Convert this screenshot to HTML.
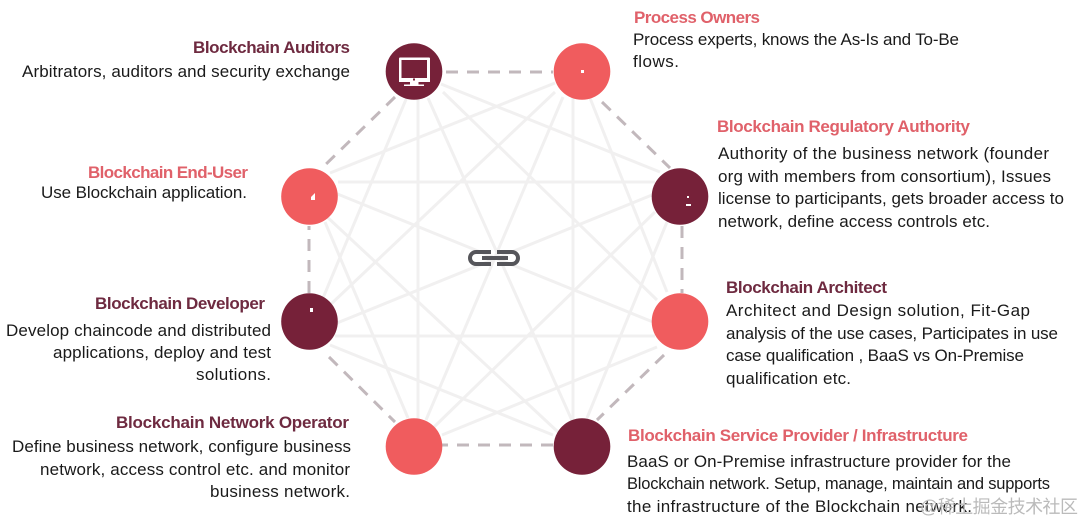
<!DOCTYPE html>
<html><head><meta charset="utf-8"><style>
html,body{margin:0;padding:0;background:#fff}
svg{display:block}
text{font-family:"Liberation Sans","Noto Sans CJK SC",sans-serif;font-size:17px;fill:#1a1a1a}
.r{font-weight:bold;fill:#6e2a40}
.c{font-weight:bold;fill:#e0616a}
</style></head><body>
<svg width="1084" height="523" viewBox="0 0 1084 523" xmlns="http://www.w3.org/2000/svg">
<rect width="1084" height="523" fill="#fff"/>
<g stroke="#f1f0f0" stroke-width="3" fill="none">
<path d="M441 84L660 172M443 92L657 300M428 98L574 425M418 95V420M407 97L318 310"/>
<path d="M555 83L330 173M555 92L330 305M563 97L426 420M573 95V420M590 98L667 292"/>
<path d="M338 182H655M652 195L337 323M655 212L433 428M667 222L587 418"/>
<path d="M335 193L653 322M335 336H655M657 347L442 435"/>
<path d="M325 215L558 432M330 345L553 435M325 222L408 418"/>
</g>
<g stroke="#c2b8bc" stroke-width="3" fill="none" stroke-dasharray="12 9">
<path d="M446 72L553 72"/>
<path d="M602 102L670 168"/>
<path d="M682 226L682 293"/>
<path d="M664 355L597 420"/>
<path d="M553 445L442 445"/>
<path d="M329 357L395 422"/>
<path d="M309 293L309 226"/>
<path d="M395 97L322 168"/>
</g>
<circle cx="414" cy="71.5" r="28.3" fill="#762139"/>
<circle cx="582" cy="71.5" r="28.3" fill="#f05c5e"/>
<circle cx="680" cy="196.5" r="28.3" fill="#762139"/>
<circle cx="680" cy="321.5" r="28.3" fill="#f05c5e"/>
<circle cx="582" cy="446.5" r="28.3" fill="#762139"/>
<circle cx="414" cy="446.5" r="28.3" fill="#f05c5e"/>
<circle cx="309.5" cy="321.5" r="28.3" fill="#762139"/>
<circle cx="309.5" cy="196.5" r="28.3" fill="#f05c5e"/>
<g fill="#fff">
<path fill-rule="evenodd" d="M400 57.5H429Q430 57.5 430 58.5V82H418.5V84.5H424V86H404V84.5H410V82H399V58.5Q399 57.5 400 57.5ZM401.5 60V78H427V60Z"/>
<rect x="581" y="70" width="3" height="3"/>
<path d="M311 197L315 193V200H311Z"/>
<rect x="310" y="308" width="3" height="4"/>
<rect x="687" y="196" width="2" height="2"/>
<rect x="686" y="204" width="5" height="2"/>
</g>
<rect x="413" y="78.5" width="2" height="2" fill="#762139"/>
<g fill="none" stroke="#55555a" stroke-width="4">
<path d="M491 252H476a6 6 0 0 0 0 12H491"/>
<path d="M497 252H512a6 6 0 0 1 0 12H497"/>
</g>
<rect x="482" y="256" width="26" height="4" fill="#55555a"/>

<text class="r" x="350" y="53" text-anchor="end" textLength="157" lengthAdjust="spacing">Blockchain Auditors</text>
<text x="350" y="77" text-anchor="end" textLength="328" lengthAdjust="spacing">Arbitrators, auditors and security exchange</text>

<text class="c" x="248" y="178" text-anchor="end" textLength="160" lengthAdjust="spacing">Blockchain End-User</text>
<text x="247" y="198" text-anchor="end" textLength="206" lengthAdjust="spacing">Use Blockchain application.</text>

<text class="r" x="265" y="309" text-anchor="end" textLength="170" lengthAdjust="spacing">Blockchain Developer</text>
<text x="271" y="336" text-anchor="end" textLength="265" lengthAdjust="spacing">Develop chaincode and distributed</text>
<text x="271" y="358" text-anchor="end" textLength="218" lengthAdjust="spacing">applications, deploy and test</text>
<text x="271" y="380" text-anchor="end" textLength="75" lengthAdjust="spacing">solutions.</text>

<text class="r" x="349" y="428" text-anchor="end" textLength="233" lengthAdjust="spacing">Blockchain Network Operator</text>
<text x="351" y="452" text-anchor="end" textLength="339" lengthAdjust="spacing">Define business network, configure business</text>
<text x="350" y="475" text-anchor="end" textLength="310" lengthAdjust="spacing">network, access control etc. and monitor</text>
<text x="350" y="497" text-anchor="end" textLength="140" lengthAdjust="spacing">business network.</text>

<text class="c" x="634" y="23" textLength="126" lengthAdjust="spacing">Process Owners</text>
<text x="633" y="45" textLength="326" lengthAdjust="spacing">Process experts, knows the As-Is and To-Be</text>
<text x="633" y="67" textLength="46" lengthAdjust="spacing">flows.</text>

<text class="c" x="717" y="132" textLength="253" lengthAdjust="spacing">Blockchain Regulatory Authority</text>
<text x="718" y="159" textLength="331" lengthAdjust="spacing">Authority of the business network (founder</text>
<text x="718" y="182" textLength="333" lengthAdjust="spacing">org with members from consortium), Issues</text>
<text x="718" y="204" textLength="346" lengthAdjust="spacing">license to participants, gets broader access to</text>
<text x="718" y="227" textLength="272" lengthAdjust="spacing">network, define access controls etc.</text>

<text class="r" x="726" y="293" textLength="161" lengthAdjust="spacing">Blockchain Architect</text>
<text x="726" y="316" textLength="304" lengthAdjust="spacing">Architect and Design solution, Fit-Gap</text>
<text x="726" y="339" textLength="332" lengthAdjust="spacing">analysis of the use cases, Participates in use</text>
<text x="726" y="361" textLength="298" lengthAdjust="spacing">case qualification , BaaS vs On-Premise</text>
<text x="726" y="384" textLength="125" lengthAdjust="spacing">qualification etc.</text>

<text class="c" x="628" y="441" textLength="340" lengthAdjust="spacing">Blockchain Service Provider / Infrastructure</text>
<text x="627" y="467" textLength="384" lengthAdjust="spacing">BaaS or On-Premise infrastructure provider for the</text>
<text x="627" y="489" textLength="423" lengthAdjust="spacing" style="font-size:16.5px">Blockchain network. Setup, manage, maintain and supports</text>
<text x="627" y="512" textLength="345" lengthAdjust="spacing">the infrastructure of the Blockchain network.</text>

<text x="920" y="513" textLength="158" lengthAdjust="spacing" style="fill:#bbbbbb;font-size:18px">@稀土掘金技术社区</text>
</svg>
</body></html>
